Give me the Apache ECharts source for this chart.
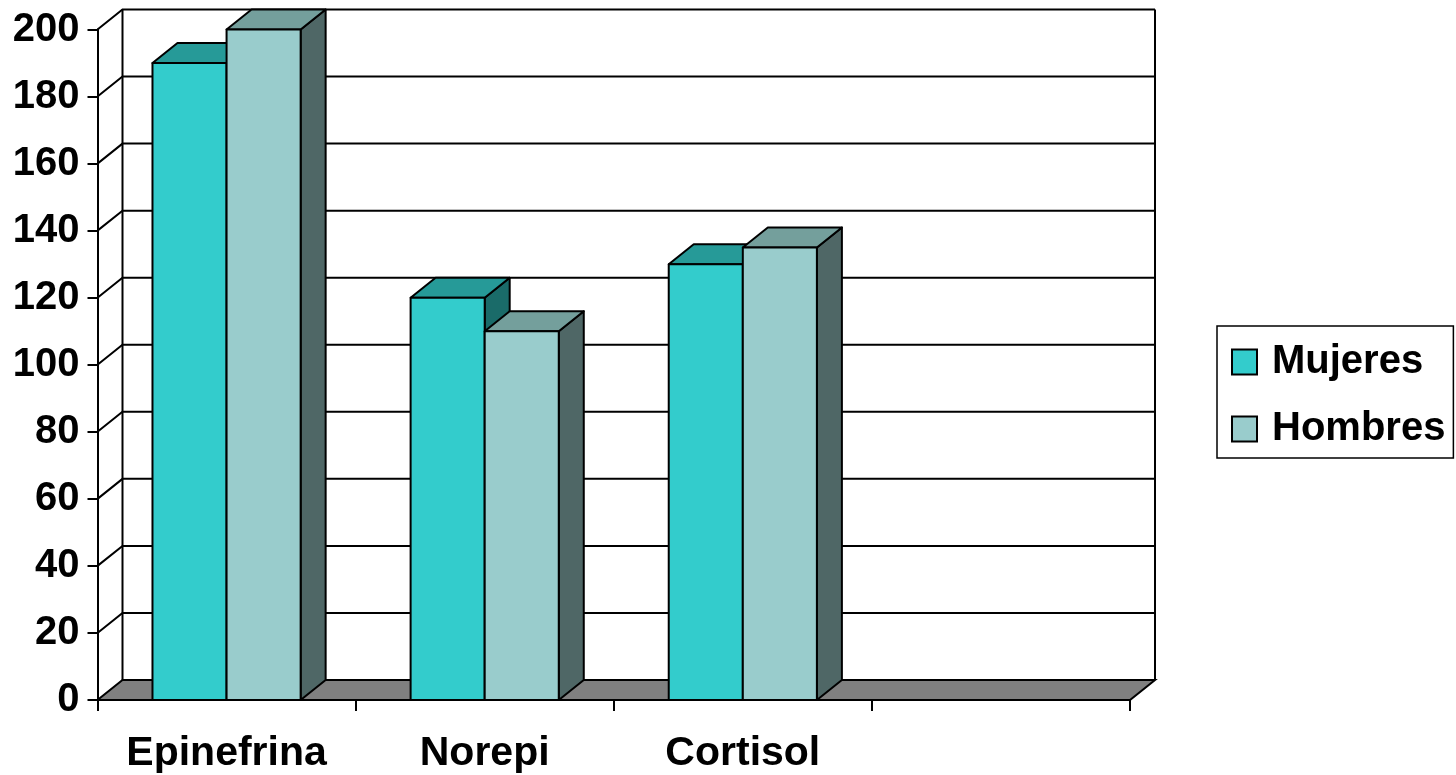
<!DOCTYPE html>
<html>
<head>
<meta charset="utf-8">
<title>Epinefrina, Norepi, Cortisol</title>
<script src="https://cdn.jsdelivr.net/npm/echarts@6/dist/echarts.min.js"></script>
<style>
  html, body { margin: 0; padding: 0; background: #ffffff; }
  #chart { width: 1456px; height: 775px; }
</style>
</head>
<body>
<div id="chart"></div>
<script>
// Category names (the fourth slot is an empty category on the axis)
const categories = ['Epinefrina', 'Norepi', 'Cortisol', ''];
// Values per group
const mujeres = [190, 120, 130];
const hombres = [200, 110, 135];
// Value-axis ticks
const yTicks = [0, 20, 40, 60, 80, 100, 120, 140, 160, 180, 200];

// Depth offset of the 3D box (back plane relative to front plane)
const DX = 25;
const DY = -20;
const FONT = "'Liberation Sans', Arial, sans-serif";
const LINE = '#000000';
const LW = 2;

const palette = {
  Mujeres: { front: '#33CCCC', top: '#269A98', side: '#1A6B69' },
  Hombres: { front: '#99CCCC', top: '#749F9C', side: '#4F6766' }
};

// Back wall, gridlines, side-wall diagonals and floor
function renderFrame(params, api) {
  const cs = params.coordSys;
  const L = cs.x, R = cs.x + cs.width;
  const v = api.value(1);
  const y = api.coord([0, v])[1];
  const children = [];
  if (v === 0) {
    const yTop = api.coord([0, yTicks[yTicks.length - 1]])[1];
    children.push({
      type: 'polygon',
      shape: { points: [[L, y], [R, y], [R + DX, y + DY], [L + DX, y + DY]] },
      style: { fill: '#808080', stroke: LINE, lineWidth: LW }
    });
    children.push({
      type: 'line',
      shape: { x1: L + DX, y1: y + DY, x2: L + DX, y2: yTop + DY },
      style: { stroke: LINE, lineWidth: LW }
    });
    children.push({
      type: 'line',
      shape: { x1: R + DX, y1: y + DY, x2: R + DX, y2: yTop + DY },
      style: { stroke: LINE, lineWidth: LW }
    });
  } else {
    children.push({
      type: 'polyline',
      shape: { points: [[L, y], [L + DX, y + DY], [R + DX, y + DY]] },
      style: { stroke: LINE, lineWidth: LW, fill: null }
    });
  }
  return { type: 'group', children: children };
}

// A 3D column: front face, top face and right side face
function makeBarRenderer(slot, colors) {
  return function (params, api) {
    const cat = api.value(0);
    const val = api.value(1);
    const base = api.coord([cat, 0]);
    const top = api.coord([cat, val]);
    const band = api.size([1, 0])[0];
    const w = band * 0.287;
    const x0 = base[0] - w + slot * w;
    const x1 = x0 + w;
    const ty = top[1], by = base[1];
    const st = { stroke: LINE, lineWidth: LW, lineJoin: 'round' };
    return {
      type: 'group',
      children: [
        {
          type: 'polygon',
          shape: { points: [[x1, ty], [x1, by], [x1 + DX, by + DY], [x1 + DX, ty + DY]] },
          style: Object.assign({ fill: colors.side }, st)
        },
        {
          type: 'polygon',
          shape: { points: [[x0, ty], [x1, ty], [x1 + DX, ty + DY], [x0 + DX, ty + DY]] },
          style: Object.assign({ fill: colors.top }, st)
        },
        {
          type: 'rect',
          shape: { x: x0, y: ty, width: w, height: by - ty },
          style: Object.assign({ fill: colors.front }, st)
        }
      ]
    };
  };
}

const chart = echarts.init(document.getElementById('chart'), null, { renderer: 'canvas' });

chart.setOption({
  backgroundColor: '#ffffff',
  animation: false,
  grid: { left: 97.5, right: 326, top: 29.5, bottom: 75, containLabel: false },
  legend: {
    data: ['Mujeres', 'Hombres'],
    orient: 'vertical',
    left: 1217,
    top: 326,
    icon: 'rect',
    itemWidth: 25,
    itemHeight: 25,
    itemGap: 21,
    padding: [13, 8, 6, 14],
    borderColor: LINE,
    borderWidth: 1.5,
    backgroundColor: '#ffffff',
    textStyle: {
      fontFamily: FONT, fontSize: 40, fontWeight: 'bold', color: '#000',
      lineHeight: 46, padding: [0, 0, 0, 10]
    }
  },
  xAxis: {
    type: 'category',
    data: categories,
    boundaryGap: true,
    axisLine: { show: true, lineStyle: { color: LINE, width: LW } },
    axisTick: { show: true, interval: 0, length: 11, lineStyle: { color: LINE, width: LW } },
    axisLabel: {
      interval: 0, margin: 33,
      fontFamily: FONT, fontSize: 41, fontWeight: 'bold', color: '#000'
    },
    splitLine: { show: false }
  },
  yAxis: {
    type: 'value',
    min: 0, max: 200, interval: 20,
    axisLine: { show: true, lineStyle: { color: LINE, width: LW } },
    axisTick: { show: true, length: 10, lineStyle: { color: LINE, width: LW } },
    axisLabel: {
      margin: 18,
      fontFamily: FONT, fontSize: 40, fontWeight: 'bold', color: '#000'
    },
    splitLine: { show: false }
  },
  series: [
    {
      type: 'custom',
      name: 'frame',
      clip: false,
      z: 1,
      silent: true,
      encode: { x: 0, y: 1 },
      data: yTicks.map(function (v) { return [0, v]; }),
      renderItem: renderFrame
    },
    {
      type: 'custom',
      name: 'Mujeres',
      clip: false,
      z: 3,
      encode: { x: 0, y: 1 },
      itemStyle: { color: palette.Mujeres.front, borderColor: LINE, borderWidth: LW },
      data: mujeres.map(function (v, i) { return [i, v]; }),
      renderItem: makeBarRenderer(0, palette.Mujeres)
    },
    {
      type: 'custom',
      name: 'Hombres',
      clip: false,
      z: 4,
      encode: { x: 0, y: 1 },
      itemStyle: { color: palette.Hombres.front, borderColor: LINE, borderWidth: LW },
      data: hombres.map(function (v, i) { return [i, v]; }),
      renderItem: makeBarRenderer(1, palette.Hombres)
    }
  ]
});
</script>
</body>
</html>
